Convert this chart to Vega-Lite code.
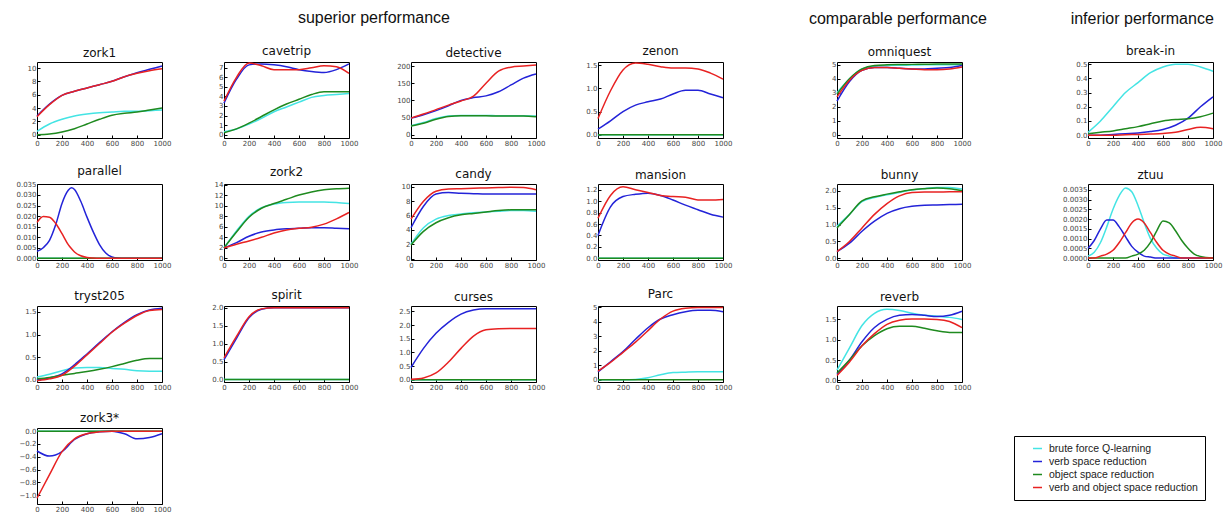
{
"$schema":"https://vega.github.io/schema/vega-lite/v6.json",
"padding":{"left":15,"top":10,"right":0,"bottom":0},
"data":{"values":[
{"g":"zork1","x":0,"a":0.5,"b":2.8,"c":0.0,"d":2.7},
{"g":"zork1","x":100,"a":1.6,"b":4.6,"c":0.1,"d":4.5},
{"g":"zork1","x":200,"a":2.3,"b":5.9,"c":0.4,"d":5.9},
{"g":"zork1","x":300,"a":2.8,"b":6.5,"c":0.9,"d":6.5},
{"g":"zork1","x":400,"a":3.1,"b":7.0,"c":1.6,"d":7.0},
{"g":"zork1","x":500,"a":3.3,"b":7.5,"c":2.3,"d":7.5},
{"g":"zork1","x":600,"a":3.4,"b":8.0,"c":2.9,"d":8.0},
{"g":"zork1","x":700,"a":3.5,"b":8.7,"c":3.2,"d":8.7},
{"g":"zork1","x":800,"a":3.5,"b":9.3,"c":3.4,"d":9.2},
{"g":"zork1","x":900,"a":3.6,"b":9.8,"c":3.7,"d":9.6},
{"g":"zork1","x":1000,"a":3.7,"b":10.3,"c":4.0,"d":9.9},
{"g":"cavetrip","x":0,"a":0.3,"b":3.3,"c":0.2,"d":3.5},
{"g":"cavetrip","x":100,"a":0.6,"b":5.8,"c":0.6,"d":6.0},
{"g":"cavetrip","x":200,"a":1.1,"b":7.3,"c":1.2,"d":7.5},
{"g":"cavetrip","x":300,"a":1.7,"b":7.4,"c":1.9,"d":7.2},
{"g":"cavetrip","x":400,"a":2.4,"b":7.3,"c":2.6,"d":6.8},
{"g":"cavetrip","x":500,"a":2.9,"b":7.1,"c":3.2,"d":6.8},
{"g":"cavetrip","x":600,"a":3.4,"b":6.8,"c":3.7,"d":6.8},
{"g":"cavetrip","x":700,"a":3.9,"b":6.6,"c":4.2,"d":7.0},
{"g":"cavetrip","x":800,"a":4.1,"b":6.5,"c":4.5,"d":7.2},
{"g":"cavetrip","x":900,"a":4.2,"b":6.8,"c":4.5,"d":7.1},
{"g":"cavetrip","x":1000,"a":4.3,"b":7.4,"c":4.5,"d":6.4},
{"g":"detective","x":0,"a":26,"b":48,"c":25,"d":48},
{"g":"detective","x":100,"a":35,"b":58,"c":33,"d":60},
{"g":"detective","x":200,"a":47,"b":70,"c":45,"d":73},
{"g":"detective","x":300,"a":54,"b":84,"c":53,"d":86},
{"g":"detective","x":400,"a":56,"b":100,"c":55,"d":98},
{"g":"detective","x":500,"a":56,"b":108,"c":55,"d":112},
{"g":"detective","x":600,"a":56,"b":113,"c":55,"d":150},
{"g":"detective","x":700,"a":55,"b":125,"c":54,"d":185},
{"g":"detective","x":800,"a":55,"b":145,"c":54,"d":197},
{"g":"detective","x":900,"a":55,"b":165,"c":54,"d":200},
{"g":"detective","x":1000,"a":54,"b":177,"c":52,"d":203},
{"g":"zenon","x":0,"a":0,"b":0.12,"c":0,"d":0.35},
{"g":"zenon","x":100,"a":0,"b":0.3,"c":0,"d":0.95},
{"g":"zenon","x":200,"a":0,"b":0.5,"c":0,"d":1.4},
{"g":"zenon","x":300,"a":0,"b":0.64,"c":0,"d":1.55},
{"g":"zenon","x":400,"a":0,"b":0.71,"c":0,"d":1.52},
{"g":"zenon","x":500,"a":0,"b":0.77,"c":0,"d":1.47},
{"g":"zenon","x":600,"a":0,"b":0.88,"c":0,"d":1.44},
{"g":"zenon","x":700,"a":0,"b":0.96,"c":0,"d":1.44},
{"g":"zenon","x":800,"a":0,"b":0.96,"c":0,"d":1.42},
{"g":"zenon","x":900,"a":0,"b":0.88,"c":0,"d":1.33},
{"g":"zenon","x":1000,"a":0,"b":0.8,"c":0,"d":1.2},
{"g":"parallel","x":0,"a":0,"b":0.0033,"c":0,"d":0.017},
{"g":"parallel","x":50,"a":0,"b":0.005,"c":0,"d":0.0198},
{"g":"parallel","x":100,"a":0,"b":0.0085,"c":0,"d":0.0195},
{"g":"parallel","x":150,"a":0,"b":0.016,"c":0,"d":0.0165},
{"g":"parallel","x":200,"a":0,"b":0.026,"c":0,"d":0.0117},
{"g":"parallel","x":250,"a":0,"b":0.0322,"c":0,"d":0.0065},
{"g":"parallel","x":275,"a":0,"b":0.0334,"c":0,"d":0.0046},
{"g":"parallel","x":300,"a":0,"b":0.0326,"c":0,"d":0.003},
{"g":"parallel","x":350,"a":0,"b":0.027,"c":0,"d":0.0012},
{"g":"parallel","x":400,"a":0,"b":0.0195,"c":0,"d":0.0004},
{"g":"parallel","x":450,"a":0,"b":0.0125,"c":0,"d":0.0001},
{"g":"parallel","x":500,"a":0,"b":0.0065,"c":0,"d":0},
{"g":"parallel","x":550,"a":0,"b":0.0025,"c":0,"d":0},
{"g":"parallel","x":600,"a":0,"b":0.0006,"c":0,"d":0},
{"g":"parallel","x":650,"a":0,"b":0.0001,"c":0,"d":0},
{"g":"parallel","x":700,"a":0,"b":0,"c":0,"d":0},
{"g":"parallel","x":800,"a":0,"b":0,"c":0,"d":0},
{"g":"parallel","x":900,"a":0,"b":0,"c":0,"d":0},
{"g":"parallel","x":1000,"a":0,"b":0,"c":0,"d":0},
{"g":"zork2","x":0,"a":2,"b":2,"c":2,"d":2},
{"g":"zork2","x":100,"a":5.2,"b":3,"c":5,"d":2.7},
{"g":"zork2","x":200,"a":8,"b":4.2,"c":7.8,"d":3.3},
{"g":"zork2","x":300,"a":9.6,"b":5,"c":9.5,"d":4},
{"g":"zork2","x":400,"a":10.3,"b":5.4,"c":10.4,"d":4.8},
{"g":"zork2","x":500,"a":10.6,"b":5.6,"c":11.2,"d":5.4},
{"g":"zork2","x":600,"a":10.7,"b":5.7,"c":12,"d":5.7},
{"g":"zork2","x":700,"a":10.7,"b":5.8,"c":12.6,"d":5.9},
{"g":"zork2","x":800,"a":10.7,"b":5.8,"c":13,"d":6.5},
{"g":"zork2","x":900,"a":10.6,"b":5.7,"c":13.2,"d":7.5},
{"g":"zork2","x":1000,"a":10.4,"b":5.6,"c":13.3,"d":8.7},
{"g":"candy","x":0,"a":2,"b":4.3,"c":1.9,"d":5.5},
{"g":"candy","x":100,"a":4.3,"b":7.3,"c":3.8,"d":8},
{"g":"candy","x":200,"a":5.5,"b":9,"c":5,"d":9.4},
{"g":"candy","x":300,"a":6,"b":9.2,"c":5.7,"d":9.7},
{"g":"candy","x":400,"a":6.2,"b":9.1,"c":6.1,"d":9.75},
{"g":"candy","x":500,"a":6.4,"b":9.05,"c":6.3,"d":9.8},
{"g":"candy","x":600,"a":6.5,"b":9,"c":6.5,"d":9.85},
{"g":"candy","x":700,"a":6.6,"b":9,"c":6.7,"d":9.9},
{"g":"candy","x":800,"a":6.7,"b":9,"c":6.8,"d":9.95},
{"g":"candy","x":900,"a":6.7,"b":9,"c":6.8,"d":9.9},
{"g":"candy","x":1000,"a":6.6,"b":9,"c":6.8,"d":9.6},
{"g":"mansion","x":0,"a":0,"b":0.4,"c":0,"d":0.7},
{"g":"mansion","x":100,"a":0,"b":0.9,"c":0,"d":1.1},
{"g":"mansion","x":200,"a":0,"b":1.08,"c":0,"d":1.25},
{"g":"mansion","x":300,"a":0,"b":1.12,"c":0,"d":1.2},
{"g":"mansion","x":400,"a":0,"b":1.14,"c":0,"d":1.15},
{"g":"mansion","x":500,"a":0,"b":1.1,"c":0,"d":1.1},
{"g":"mansion","x":600,"a":0,"b":1.02,"c":0,"d":1.08},
{"g":"mansion","x":700,"a":0,"b":0.93,"c":0,"d":1.07},
{"g":"mansion","x":800,"a":0,"b":0.85,"c":0,"d":1.02},
{"g":"mansion","x":900,"a":0,"b":0.77,"c":0,"d":1.02},
{"g":"mansion","x":1000,"a":0,"b":0.72,"c":0,"d":1.03},
{"g":"tryst205","x":0,"a":0.06,"b":0,"c":0.02,"d":-0.02},
{"g":"tryst205","x":100,"a":0.12,"b":0.04,"c":0.05,"d":0.02},
{"g":"tryst205","x":200,"a":0.2,"b":0.13,"c":0.1,"d":0.1},
{"g":"tryst205","x":300,"a":0.26,"b":0.33,"c":0.14,"d":0.3},
{"g":"tryst205","x":400,"a":0.27,"b":0.57,"c":0.18,"d":0.55},
{"g":"tryst205","x":500,"a":0.27,"b":0.82,"c":0.23,"d":0.8},
{"g":"tryst205","x":600,"a":0.25,"b":1.06,"c":0.29,"d":1.05},
{"g":"tryst205","x":700,"a":0.23,"b":1.27,"c":0.36,"d":1.25},
{"g":"tryst205","x":800,"a":0.2,"b":1.44,"c":0.43,"d":1.42},
{"g":"tryst205","x":900,"a":0.19,"b":1.54,"c":0.47,"d":1.53},
{"g":"tryst205","x":1000,"a":0.19,"b":1.58,"c":0.47,"d":1.55},
{"g":"spirit","x":0,"a":0,"b":0.55,"c":0,"d":0.6},
{"g":"spirit","x":100,"a":0,"b":1.15,"c":0,"d":1.2},
{"g":"spirit","x":200,"a":0,"b":1.72,"c":0,"d":1.75},
{"g":"spirit","x":300,"a":0,"b":1.96,"c":0,"d":1.97},
{"g":"spirit","x":400,"a":0,"b":2,"c":0,"d":2},
{"g":"spirit","x":500,"a":0,"b":2,"c":0,"d":2},
{"g":"spirit","x":600,"a":0,"b":2,"c":0,"d":2},
{"g":"spirit","x":700,"a":0,"b":2,"c":0,"d":2},
{"g":"spirit","x":800,"a":0,"b":2,"c":0,"d":2},
{"g":"spirit","x":900,"a":0,"b":2,"c":0,"d":2},
{"g":"spirit","x":1000,"a":0,"b":2,"c":0,"d":2},
{"g":"curses","x":0,"a":0,"b":0.45,"c":0,"d":0.02},
{"g":"curses","x":100,"a":0,"b":1.15,"c":0,"d":0.07},
{"g":"curses","x":200,"a":0,"b":1.7,"c":0,"d":0.25},
{"g":"curses","x":300,"a":0,"b":2.1,"c":0,"d":0.65},
{"g":"curses","x":400,"a":0,"b":2.4,"c":0,"d":1.15},
{"g":"curses","x":500,"a":0,"b":2.55,"c":0,"d":1.6},
{"g":"curses","x":600,"a":0,"b":2.6,"c":0,"d":1.83},
{"g":"curses","x":700,"a":0,"b":2.6,"c":0,"d":1.87},
{"g":"curses","x":800,"a":0,"b":2.6,"c":0,"d":1.88},
{"g":"curses","x":900,"a":0,"b":2.6,"c":0,"d":1.88},
{"g":"curses","x":1000,"a":0,"b":2.6,"c":0,"d":1.88},
{"g":"Parc","x":0,"a":0,"b":0.55,"c":0,"d":0.6},
{"g":"Parc","x":100,"a":0,"b":1.25,"c":0,"d":1.2},
{"g":"Parc","x":200,"a":0,"b":1.95,"c":0,"d":1.9},
{"g":"Parc","x":300,"a":0.03,"b":2.8,"c":0,"d":2.6},
{"g":"Parc","x":400,"a":0.15,"b":3.6,"c":0,"d":3.4},
{"g":"Parc","x":500,"a":0.35,"b":4.2,"c":0,"d":4.2},
{"g":"Parc","x":600,"a":0.5,"b":4.5,"c":0,"d":4.75},
{"g":"Parc","x":700,"a":0.53,"b":4.7,"c":0,"d":4.95},
{"g":"Parc","x":800,"a":0.55,"b":4.8,"c":0,"d":5},
{"g":"Parc","x":900,"a":0.55,"b":4.8,"c":0,"d":5},
{"g":"Parc","x":1000,"a":0.55,"b":4.7,"c":0,"d":5},
{"g":"zork3*","x":0,"a":0,"b":-0.31,"c":0,"d":-1.05},
{"g":"zork3*","x":100,"a":0,"b":-0.39,"c":0,"d":-0.68},
{"g":"zork3*","x":200,"a":0,"b":-0.32,"c":0,"d":-0.32},
{"g":"zork3*","x":300,"a":0,"b":-0.13,"c":0,"d":-0.12},
{"g":"zork3*","x":400,"a":0,"b":-0.04,"c":0,"d":-0.04},
{"g":"zork3*","x":500,"a":0,"b":-0.01,"c":0,"d":-0.01},
{"g":"zork3*","x":600,"a":0,"b":0,"c":0,"d":0},
{"g":"zork3*","x":700,"a":0,"b":-0.04,"c":0,"d":0},
{"g":"zork3*","x":800,"a":0,"b":-0.12,"c":0,"d":0},
{"g":"zork3*","x":900,"a":0,"b":-0.1,"c":0,"d":0},
{"g":"zork3*","x":1000,"a":0,"b":-0.04,"c":0,"d":0},
{"g":"omniquest","x":0,"a":3.0,"b":2.4,"c":2.9,"d":2.7},
{"g":"omniquest","x":100,"a":4.0,"b":3.8,"c":4.0,"d":3.9},
{"g":"omniquest","x":200,"a":4.7,"b":4.6,"c":4.7,"d":4.6},
{"g":"omniquest","x":300,"a":4.9,"b":4.8,"c":4.95,"d":4.8},
{"g":"omniquest","x":400,"a":4.95,"b":4.8,"c":5.0,"d":4.8},
{"g":"omniquest","x":500,"a":4.97,"b":4.75,"c":5.02,"d":4.75},
{"g":"omniquest","x":600,"a":4.98,"b":4.7,"c":5.03,"d":4.7},
{"g":"omniquest","x":700,"a":5.0,"b":4.7,"c":5.04,"d":4.65},
{"g":"omniquest","x":800,"a":5.0,"b":4.75,"c":5.05,"d":4.65},
{"g":"omniquest","x":900,"a":5.0,"b":4.8,"c":5.05,"d":4.7},
{"g":"omniquest","x":1000,"a":5.0,"b":4.95,"c":5.05,"d":4.85},
{"g":"bunny","x":0,"a":0.95,"b":0.2,"c":0.9,"d":0.2},
{"g":"bunny","x":100,"a":1.3,"b":0.45,"c":1.3,"d":0.5},
{"g":"bunny","x":200,"a":1.68,"b":0.8,"c":1.7,"d":0.9},
{"g":"bunny","x":300,"a":1.8,"b":1.1,"c":1.82,"d":1.3},
{"g":"bunny","x":400,"a":1.88,"b":1.33,"c":1.9,"d":1.62},
{"g":"bunny","x":500,"a":1.95,"b":1.47,"c":1.97,"d":1.85},
{"g":"bunny","x":600,"a":2.02,"b":1.54,"c":2.03,"d":1.95},
{"g":"bunny","x":700,"a":2.07,"b":1.57,"c":2.06,"d":1.96},
{"g":"bunny","x":800,"a":2.1,"b":1.58,"c":2.08,"d":1.96},
{"g":"bunny","x":900,"a":2.1,"b":1.59,"c":2.06,"d":1.97},
{"g":"bunny","x":1000,"a":2.05,"b":1.6,"c":2.0,"d":1.97},
{"g":"reverb","x":0,"a":0.25,"b":0.15,"c":0.18,"d":0.12},
{"g":"reverb","x":100,"a":0.8,"b":0.5,"c":0.5,"d":0.45},
{"g":"reverb","x":200,"a":1.35,"b":0.95,"c":0.85,"d":0.85},
{"g":"reverb","x":300,"a":1.65,"b":1.3,"c":1.1,"d":1.15},
{"g":"reverb","x":400,"a":1.75,"b":1.5,"c":1.27,"d":1.38},
{"g":"reverb","x":500,"a":1.72,"b":1.6,"c":1.33,"d":1.48},
{"g":"reverb","x":600,"a":1.65,"b":1.62,"c":1.33,"d":1.51},
{"g":"reverb","x":700,"a":1.6,"b":1.6,"c":1.28,"d":1.51},
{"g":"reverb","x":800,"a":1.58,"b":1.57,"c":1.22,"d":1.5},
{"g":"reverb","x":900,"a":1.55,"b":1.6,"c":1.18,"d":1.45},
{"g":"reverb","x":1000,"a":1.5,"b":1.7,"c":1.18,"d":1.3},
{"g":"break-in","x":0,"a":0.02,"b":0,"c":0.01,"d":0},
{"g":"break-in","x":100,"a":0.1,"b":0,"c":0.02,"d":0},
{"g":"break-in","x":200,"a":0.2,"b":0.005,"c":0.03,"d":0},
{"g":"break-in","x":300,"a":0.3,"b":0.01,"c":0.045,"d":0.003},
{"g":"break-in","x":400,"a":0.37,"b":0.015,"c":0.06,"d":0.005},
{"g":"break-in","x":500,"a":0.44,"b":0.025,"c":0.08,"d":0.008},
{"g":"break-in","x":600,"a":0.48,"b":0.04,"c":0.1,"d":0.012},
{"g":"break-in","x":700,"a":0.5,"b":0.07,"c":0.11,"d":0.02},
{"g":"break-in","x":800,"a":0.5,"b":0.12,"c":0.115,"d":0.04},
{"g":"break-in","x":900,"a":0.48,"b":0.2,"c":0.13,"d":0.055},
{"g":"break-in","x":1000,"a":0.45,"b":0.27,"c":0.155,"d":0.045},
{"g":"ztuu","x":0,"a":0.0001,"b":0.0005,"c":0,"d":0},
{"g":"ztuu","x":50,"a":0.0003,"b":0.0009,"c":0,"d":0},
{"g":"ztuu","x":100,"a":0.0008,"b":0.0015,"c":0,"d":0.0001},
{"g":"ztuu","x":150,"a":0.0016,"b":0.00195,"c":0,"d":0.0002},
{"g":"ztuu","x":200,"a":0.0025,"b":0.00195,"c":0,"d":0.0004},
{"g":"ztuu","x":250,"a":0.0032,"b":0.0016,"c":0,"d":0.0008},
{"g":"ztuu","x":300,"a":0.0036,"b":0.0011,"c":0,"d":0.0013},
{"g":"ztuu","x":350,"a":0.0034,"b":0.0006,"c":0.0001,"d":0.0018},
{"g":"ztuu","x":400,"a":0.0027,"b":0.0003,"c":0.0002,"d":0.002},
{"g":"ztuu","x":450,"a":0.0018,"b":0.0001,"c":0.0004,"d":0.0018},
{"g":"ztuu","x":500,"a":0.001,"b":0.00005,"c":0.0008,"d":0.0013},
{"g":"ztuu","x":550,"a":0.0005,"b":0,"c":0.0014,"d":0.0008},
{"g":"ztuu","x":600,"a":0.0002,"b":0,"c":0.0019,"d":0.0004},
{"g":"ztuu","x":650,"a":0.0001,"b":0,"c":0.0018,"d":0.0002},
{"g":"ztuu","x":700,"a":0,"b":0,"c":0.0014,"d":0.0001},
{"g":"ztuu","x":750,"a":0,"b":0,"c":0.0009,"d":0},
{"g":"ztuu","x":800,"a":0,"b":0,"c":0.0005,"d":0},
{"g":"ztuu","x":850,"a":0,"b":0,"c":0.0002,"d":0},
{"g":"ztuu","x":900,"a":0,"b":0,"c":0.00008,"d":0},
{"g":"ztuu","x":1000,"a":0,"b":0,"c":0,"d":0}
]},
"hconcat":[
{"title":{"text":"superior performance","font":"Liberation Sans","fontSize":16,"anchor":"middle","frame":"bounds","offset":18},
 "columns":4,"spacing":{"column":62,"row":46},"bounds":"flush",
 "concat":[
 {"title":"zork1","transform":[{"filter":"datum.g=='zork1'"},{"fold":["a","b","c","d"],"as":["s","v"]}],"mark":"line",
  "encoding":{"x":{"field":"x","type":"quantitative","scale":{"domain":[0,1000]},"title":null},
   "y":{"field":"v","type":"quantitative","scale":{"domain":[-0.5,10.9],"nice":false},"axis":{"values":[0,2,4,6,8,10],"format":"d"},"title":null},
   "color":{"field":"s","type":"nominal","legend":{"title":null,"labelExpr":"datum.label=='a'?'brute force Q-learning':datum.label=='b'?'verb space reduction':datum.label=='c'?'object space reduction':'verb and object space reduction'"}}}},
 {"title":"cavetrip","transform":[{"filter":"datum.g=='cavetrip'"},{"fold":["a","b","c","d"],"as":["s","v"]}],"mark":"line",
  "encoding":{"x":{"field":"x","type":"quantitative","scale":{"domain":[0,1000]},"title":null},
   "y":{"field":"v","type":"quantitative","scale":{"domain":[-0.35,7.6],"nice":false},"axis":{"values":[0,1,2,3,4,5,6,7],"format":"d"},"title":null},
   "color":{"field":"s","type":"nominal"}}},
 {"title":"detective","transform":[{"filter":"datum.g=='detective'"},{"fold":["a","b","c","d"],"as":["s","v"]}],"mark":"line",
  "encoding":{"x":{"field":"x","type":"quantitative","scale":{"domain":[0,1000]},"title":null},
   "y":{"field":"v","type":"quantitative","scale":{"domain":[-10,212],"nice":false},"axis":{"values":[0,50,100,150,200],"format":"d"},"title":null},
   "color":{"field":"s","type":"nominal"}}},
 {"title":"zenon","transform":[{"filter":"datum.g=='zenon'"},{"fold":["a","b","c","d"],"as":["s","v"]}],"mark":"line",
  "encoding":{"x":{"field":"x","type":"quantitative","scale":{"domain":[0,1000]},"title":null},
   "y":{"field":"v","type":"quantitative","scale":{"domain":[-0.07,1.57],"nice":false},"axis":{"values":[0,0.5,1,1.5],"format":".1f"},"title":null},
   "color":{"field":"s","type":"nominal"}}},
 {"title":"parallel","transform":[{"filter":"datum.g=='parallel'"},{"fold":["a","b","c","d"],"as":["s","v"]}],"mark":"line",
  "encoding":{"x":{"field":"x","type":"quantitative","scale":{"domain":[0,1000]},"title":null},
   "y":{"field":"v","type":"quantitative","scale":{"domain":[-0.0008,0.0352],"nice":false},"axis":{"values":[0,0.005,0.01,0.015,0.02,0.025,0.03,0.035],"format":".3f"},"title":null},
   "color":{"field":"s","type":"nominal"}}},
 {"title":"zork2","transform":[{"filter":"datum.g=='zork2'"},{"fold":["a","b","c","d"],"as":["s","v"]}],"mark":"line",
  "encoding":{"x":{"field":"x","type":"quantitative","scale":{"domain":[0,1000]},"title":null},
   "y":{"field":"v","type":"quantitative","scale":{"domain":[-0.3,14.1],"nice":false},"axis":{"values":[0,2,4,6,8,10,12,14],"format":"d"},"title":null},
   "color":{"field":"s","type":"nominal"}}},
 {"title":"candy","transform":[{"filter":"datum.g=='candy'"},{"fold":["a","b","c","d"],"as":["s","v"]}],"mark":"line",
  "encoding":{"x":{"field":"x","type":"quantitative","scale":{"domain":[0,1000]},"title":null},
   "y":{"field":"v","type":"quantitative","scale":{"domain":[-0.2,10.4],"nice":false},"axis":{"values":[0,2,4,6,8,10],"format":"d"},"title":null},
   "color":{"field":"s","type":"nominal"}}},
 {"title":"mansion","transform":[{"filter":"datum.g=='mansion'"},{"fold":["a","b","c","d"],"as":["s","v"]}],"mark":"line",
  "encoding":{"x":{"field":"x","type":"quantitative","scale":{"domain":[0,1000]},"title":null},
   "y":{"field":"v","type":"quantitative","scale":{"domain":[-0.03,1.3],"nice":false},"axis":{"values":[0,0.2,0.4,0.6,0.8,1,1.2],"format":".1f"},"title":null},
   "color":{"field":"s","type":"nominal"}}},
 {"title":"tryst205","transform":[{"filter":"datum.g=='tryst205'"},{"fold":["a","b","c","d"],"as":["s","v"]}],"mark":"line",
  "encoding":{"x":{"field":"x","type":"quantitative","scale":{"domain":[0,1000]},"title":null},
   "y":{"field":"v","type":"quantitative","scale":{"domain":[-0.05,1.63],"nice":false},"axis":{"values":[0,0.5,1,1.5],"format":".1f"},"title":null},
   "color":{"field":"s","type":"nominal"}}},
 {"title":"spirit","transform":[{"filter":"datum.g=='spirit'"},{"fold":["a","b","c","d"],"as":["s","v"]}],"mark":"line",
  "encoding":{"x":{"field":"x","type":"quantitative","scale":{"domain":[0,1000]},"title":null},
   "y":{"field":"v","type":"quantitative","scale":{"domain":[-0.07,2.05],"nice":false},"axis":{"values":[0,0.5,1,1.5,2],"format":".1f"},"title":null},
   "color":{"field":"s","type":"nominal"}}},
 {"title":"curses","transform":[{"filter":"datum.g=='curses'"},{"fold":["a","b","c","d"],"as":["s","v"]}],"mark":"line",
  "encoding":{"x":{"field":"x","type":"quantitative","scale":{"domain":[0,1000]},"title":null},
   "y":{"field":"v","type":"quantitative","scale":{"domain":[-0.08,2.7],"nice":false},"axis":{"values":[0,0.5,1,1.5,2,2.5],"format":".1f"},"title":null},
   "color":{"field":"s","type":"nominal"}}},
 {"title":"Parc","transform":[{"filter":"datum.g=='Parc'"},{"fold":["a","b","c","d"],"as":["s","v"]}],"mark":"line",
  "encoding":{"x":{"field":"x","type":"quantitative","scale":{"domain":[0,1000]},"title":null},
   "y":{"field":"v","type":"quantitative","scale":{"domain":[-0.15,5.1],"nice":false},"axis":{"values":[0,1,2,3,4,5],"format":"d"},"title":null},
   "color":{"field":"s","type":"nominal"}}},
 {"title":"zork3*","transform":[{"filter":"datum.g=='zork3*'"},{"fold":["a","b","c","d"],"as":["s","v"]}],"mark":"line",
  "encoding":{"x":{"field":"x","type":"quantitative","scale":{"domain":[0,1000]},"title":null},
   "y":{"field":"v","type":"quantitative","scale":{"domain":[-1.14,0.05],"nice":false},"axis":{"values":[-1,-0.8,-0.6,-0.4,-0.2,0],"format":".1f"},"title":null},
   "color":{"field":"s","type":"nominal"}}}
 ]},
{"hconcat":[
 {"title":{"text":"comparable performance","font":"Liberation Sans","fontSize":16,"anchor":"middle","frame":"bounds","offset":18},
  "spacing":46,"bounds":"flush",
  "vconcat":[
  {"title":"omniquest","transform":[{"filter":"datum.g=='omniquest'"},{"fold":["a","b","c","d"],"as":["s","v"]}],"mark":"line",
   "encoding":{"x":{"field":"x","type":"quantitative","scale":{"domain":[0,1000]},"title":null},
    "y":{"field":"v","type":"quantitative","scale":{"domain":[-0.24,5.2],"nice":false},"axis":{"values":[0,1,2,3,4,5],"format":"d"},"title":null},
    "color":{"field":"s","type":"nominal"}}},
  {"title":"bunny","transform":[{"filter":"datum.g=='bunny'"},{"fold":["a","b","c","d"],"as":["s","v"]}],"mark":"line",
   "encoding":{"x":{"field":"x","type":"quantitative","scale":{"domain":[0,1000]},"title":null},
    "y":{"field":"v","type":"quantitative","scale":{"domain":[-0.05,2.2],"nice":false},"axis":{"values":[0,0.5,1,1.5,2],"format":".1f"},"title":null},
    "color":{"field":"s","type":"nominal"}}},
  {"title":"reverb","transform":[{"filter":"datum.g=='reverb'"},{"fold":["a","b","c","d"],"as":["s","v"]}],"mark":"line",
   "encoding":{"x":{"field":"x","type":"quantitative","scale":{"domain":[0,1000]},"title":null},
    "y":{"field":"v","type":"quantitative","scale":{"domain":[-0.04,1.83],"nice":false},"axis":{"values":[0,0.5,1,1.5],"format":".1f"},"title":null},
    "color":{"field":"s","type":"nominal"}}}
  ]},
 {"title":{"text":"inferior performance","font":"Liberation Sans","fontSize":16,"anchor":"middle","frame":"bounds","offset":18},
  "spacing":46,"bounds":"flush",
  "vconcat":[
  {"title":"break-in","transform":[{"filter":"datum.g=='break-in'"},{"fold":["a","b","c","d"],"as":["s","v"]}],"mark":"line",
   "encoding":{"x":{"field":"x","type":"quantitative","scale":{"domain":[0,1000]},"title":null},
    "y":{"field":"v","type":"quantitative","scale":{"domain":[-0.02,0.515],"nice":false},"axis":{"values":[0,0.1,0.2,0.3,0.4,0.5],"format":".1f"},"title":null},
    "color":{"field":"s","type":"nominal"}}},
  {"title":"ztuu","transform":[{"filter":"datum.g=='ztuu'"},{"fold":["a","b","c","d"],"as":["s","v"]}],"mark":"line",
   "encoding":{"x":{"field":"x","type":"quantitative","scale":{"domain":[0,1000]},"title":null},
    "y":{"field":"v","type":"quantitative","scale":{"domain":[-0.0001,0.0038],"nice":false},"axis":{"values":[0,0.0005,0.001,0.0015,0.002,0.0025,0.003,0.0035],"format":".4f"},"title":null},
    "color":{"field":"s","type":"nominal"}}}
  ]}
 ],"spacing":75}
],
"spacing":75,
"config":{
 "font":"DejaVu Sans",
 "numberFormat":"d",
 "view":{"continuousWidth":125,"continuousHeight":76,"stroke":"#000","strokeWidth":1},
 "range":{"category":["#44e4e4","#2323d8","#1f8a1f","#e82222"]},
 "line":{"strokeWidth":1.5,"interpolate":"monotone"},
 "axis":{"domain":false,"grid":false,"labelFont":"DejaVu Sans","labelFontSize":7,"labelColor":"#444","tickColor":"#000","tickSize":-3,"labelPadding":4},
 "axisX":{"tickCount":5,"labelOverlap":false,"labelFlush":false},
 "title":{"font":"DejaVu Sans","fontSize":12,"fontWeight":"normal","offset":2,"color":"#111"},
 "legend":{"orient":"none","legendX":977,"legendY":374,"strokeColor":"#000","fillColor":"#fff","padding":7,"symbolType":"stroke","symbolStrokeWidth":1.5,"symbolSize":81,"symbolOffset":11,"labelFont":"Liberation Sans","labelFontSize":10.5,"labelColor":"#222","labelOffset":6,"rowPadding":2,"cornerRadius":0}
}
}
